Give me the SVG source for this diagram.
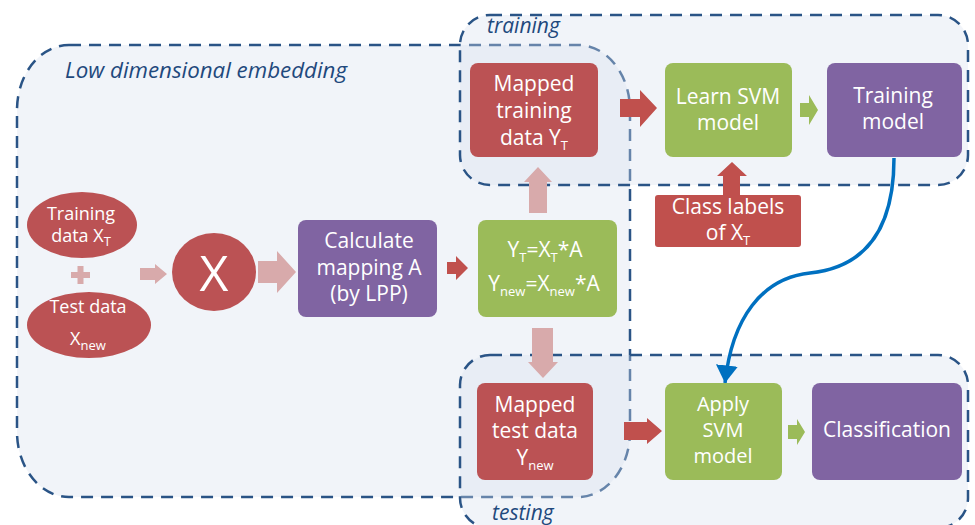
<svg xmlns="http://www.w3.org/2000/svg" width="975" height="525" viewBox="0 0 975 525">
<defs>
<style>
.grp{fill:#d6e0ef;fill-opacity:0.35;stroke:#2a5486;stroke-width:2.5;stroke-dasharray:12 8}
.glabel{font-family:"Open Sans","Liberation Sans",sans-serif;font-style:italic;font-size:21px;fill:#1f497d}
.t{font-family:"Open Sans","Liberation Sans",sans-serif;font-size:21px;fill:#ffffff;text-anchor:middle}
.tc{font-size:20px}
.ts{font-size:18px}
.sub{font-size:13px}
.red{fill:#bb5254}
.red2{fill:#c0504d}
.green{fill:#9bbb59}
.purple{fill:#8064a2}
.pink{fill:#d8aaab}
</style>
<marker id="bluehead" markerUnits="userSpaceOnUse" markerWidth="22" markerHeight="22" viewBox="0 0 20 20" refX="16" refY="10" orient="auto">
<path d="M0,0 L16,10 L0,20 Z" fill="#0070c0"/>
</marker>
</defs>
<rect width="975" height="525" fill="#ffffff"/>

<g id="group-lowdim">
<rect class="grp" x="17" y="45" width="613" height="452" rx="52" ry="65"/>
<text class="glabel" x="65" y="78" textLength="282" lengthAdjust="spacingAndGlyphs">Low dimensional embedding</text>
</g>
<g id="group-training">
<rect class="grp" x="460" y="15" width="508" height="170" rx="30" ry="30"/>
<text class="glabel" x="487" y="33">training</text>
</g>
<g id="group-testing">
<rect class="grp" x="460" y="355" width="508" height="173" rx="30" ry="30"/>
<text class="glabel" x="492" y="520">testing</text>
</g>

<g id="connectors">
<polygon class="pink" points="140,268 155,268 155,264 167,274 155,284 155,280 140,280"/>
<polygon class="pink" points="258,261 277,261 277,251 296,272 277,293 277,283 258,283"/>
<polygon class="red2" points="447,262 456,262 456,256 468,268 456,280 456,274 447,274"/>
<polygon class="pink" points="538,167 552,182 547,182 547,213 529,213 529,182 524,182"/>
<polygon class="pink" points="532,328 553,328 553,362 558,362 543,378 528,362 532,362"/>
<polygon class="red2" points="620,99 640,99 640,90 657,108 640,127 640,117 620,117"/>
<polygon class="green" points="800,103 809,103 809,95 818,110 809,125 809,117 800,117"/>
<polygon class="red2" points="732,162 747,176 740,176 740,195 723,195 723,176 717,176"/>
<polygon class="red2" points="624,422 647,422 647,418 662,431 647,444 647,440 624,440"/>
<polygon class="green" points="788,425 797,425 797,419 805,432 797,445 797,439 788,439"/>
<path d="M894,158 C894,238 858,268 810,273 C762,278 732,318 725,383" fill="none" stroke="#0070c0" stroke-width="3.5" marker-end="url(#bluehead)"/>
</g>

<g id="node-training-data">
<ellipse class="red" cx="82" cy="225" rx="55" ry="33"/>
<text class="t ts" x="81" y="220">Training</text>
<text class="t ts" x="81" y="242">data X<tspan class="sub" dy="4">T</tspan></text>
</g>
<g id="node-plus">
<rect class="pink" x="71" y="272" width="19" height="6"/>
<rect class="pink" x="77.5" y="266" width="6" height="18"/>
</g>
<g id="node-test-data">
<ellipse class="red" cx="89" cy="325" rx="62" ry="33"/>
<text class="t ts" x="88" y="313">Test data</text>
<text class="t ts" x="88" y="345">X<tspan class="sub" dy="5">new</tspan></text>
</g>
<g id="node-x">
<ellipse class="red" cx="214" cy="272" rx="42" ry="39"/>
<text class="t" x="214" y="291" style="font-size:50px">X</text>
</g>
<g id="node-calc">
<rect class="purple" x="298" y="220" width="139" height="97" rx="8"/>
<text class="t" x="369" y="248">Calculate</text>
<text class="t" x="369" y="275">mapping A</text>
<text class="t" x="369" y="301">(by LPP)</text>
</g>
<g id="node-formula">
<rect class="green" x="478" y="220" width="139" height="97" rx="8"/>
<text class="t" x="545" y="257">Y<tspan class="sub" dy="5">T</tspan><tspan dy="-5">=X</tspan><tspan class="sub" dy="5">T</tspan><tspan dy="-5">*A</tspan></text>
<text class="t" x="544" y="291">Y<tspan class="sub" dy="5">new</tspan><tspan dy="-5">=X</tspan><tspan class="sub" dy="5">new</tspan><tspan dy="-5">*A</tspan></text>
</g>
<g id="node-mapped-training">
<rect class="red" x="470" y="63" width="128" height="94" rx="8"/>
<text class="t" x="534" y="91">Mapped</text>
<text class="t" x="534" y="118">training</text>
<text class="t" x="534" y="145">data Y<tspan class="sub" dy="5">T</tspan></text>
</g>
<g id="node-learn-svm">
<rect class="green" x="665" y="63" width="127" height="94" rx="8"/>
<text class="t" x="728" y="104">Learn SVM</text>
<text class="t" x="728" y="130">model</text>
</g>
<g id="node-training-model">
<rect class="purple" x="827" y="63" width="135" height="94" rx="8"/>
<text class="t" x="893" y="103">Training</text>
<text class="t" x="893" y="129">model</text>
</g>
<g id="node-class-labels">
<rect class="red2" x="655" y="195" width="146" height="52" rx="3"/>
<text class="t" x="728" y="214">Class labels</text>
<text class="t" x="728" y="240">of X<tspan class="sub" dy="5">T</tspan></text>
</g>
<g id="node-mapped-test">
<rect class="red" x="477" y="383" width="116" height="97" rx="8"/>
<text class="t" x="535" y="412">Mapped</text>
<text class="t" x="535" y="438">test data</text>
<text class="t" x="535" y="465">Y<tspan class="sub" dy="5">new</tspan></text>
</g>
<g id="node-apply-svm">
<rect class="green" x="665" y="383" width="117" height="97" rx="8"/>
<text class="t tc" x="723" y="411">Apply</text>
<text class="t tc" x="723" y="437">SVM</text>
<text class="t tc" x="723" y="463">model</text>
</g>
<g id="node-classification">
<rect class="purple" x="812" y="383" width="150" height="97" rx="8"/>
<text class="t" x="887" y="437">Classification</text>
</g>
</svg>
